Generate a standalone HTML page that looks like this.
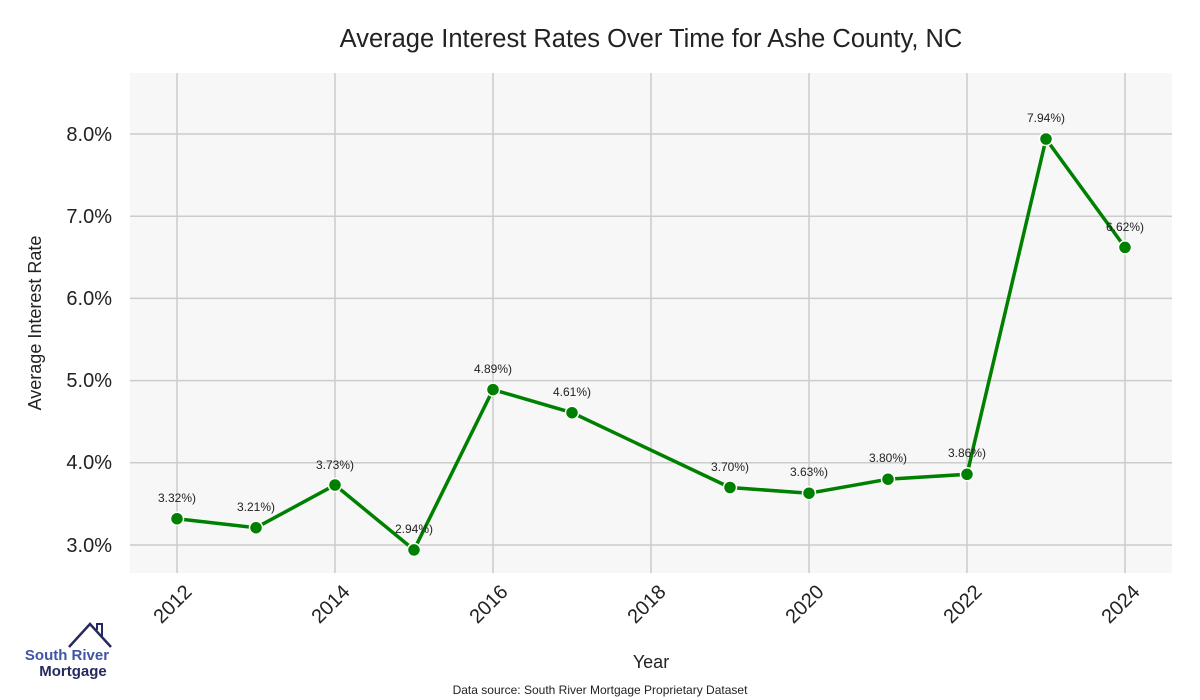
<!DOCTYPE html>
<html><head><meta charset="utf-8"><style>body{margin:0;background:#fff}svg{display:block}</style></head><body>
<svg width="1200" height="700" xmlns="http://www.w3.org/2000/svg" font-family="Liberation Sans, sans-serif">
<rect width="1200" height="700" fill="#fff"/>
<text x="651" y="47" text-anchor="middle" font-size="25.5" fill="#222">Average Interest Rates Over Time for Ashe County, NC</text>
<rect x="130" y="73" width="1042" height="500" fill="#f7f7f7"/>
<g stroke="#cccccc" stroke-width="1.5">
<line x1="177" y1="73" x2="177" y2="573"/><line x1="335" y1="73" x2="335" y2="573"/><line x1="493" y1="73" x2="493" y2="573"/><line x1="651" y1="73" x2="651" y2="573"/><line x1="809" y1="73" x2="809" y2="573"/><line x1="967" y1="73" x2="967" y2="573"/><line x1="1125" y1="73" x2="1125" y2="573"/>
<line x1="130" y1="134" x2="1172" y2="134"/><line x1="130" y1="216.2" x2="1172" y2="216.2"/><line x1="130" y1="298.4" x2="1172" y2="298.4"/><line x1="130" y1="380.6" x2="1172" y2="380.6"/><line x1="130" y1="462.8" x2="1172" y2="462.8"/><line x1="130" y1="545" x2="1172" y2="545"/>
</g>
<g font-size="20" fill="#222" text-anchor="end">
<text x="112" y="141">8.0%</text><text x="112" y="223">7.0%</text><text x="112" y="305">6.0%</text><text x="112" y="387">5.0%</text><text x="112" y="469">4.0%</text><text x="112" y="552">3.0%</text>
</g>
<text transform="translate(41,323) rotate(-90)" text-anchor="middle" font-size="18" fill="#222">Average Interest Rate</text>
<g font-size="20" fill="#222" text-anchor="end">
<text transform="translate(193,593) rotate(-45)">2012</text>
<text transform="translate(351,593) rotate(-45)">2014</text>
<text transform="translate(509,593) rotate(-45)">2016</text>
<text transform="translate(667,593) rotate(-45)">2018</text>
<text transform="translate(825,593) rotate(-45)">2020</text>
<text transform="translate(983,593) rotate(-45)">2022</text>
<text transform="translate(1141,593) rotate(-45)">2024</text>
</g>
<text x="651" y="668" text-anchor="middle" font-size="18" fill="#222">Year</text>
<text x="600" y="694" text-anchor="middle" font-size="12" fill="#222">Data source: South River Mortgage Proprietary Dataset</text>
<polyline fill="none" stroke="#008000" stroke-width="3.5" points="177,518.7 256,527.7 335,485 414,549.9 493,389.6 572,412.7 730,487.5 809,493.2 888,479.2 967,474.3 1046,139 1125,247.4"/>
<g fill="#008000" stroke="#fff" stroke-width="1.5">
<circle cx="177" cy="518.7" r="6.5"/><circle cx="256" cy="527.7" r="6.5"/><circle cx="335" cy="485" r="6.5"/><circle cx="414" cy="549.9" r="6.5"/><circle cx="493" cy="389.6" r="6.5"/><circle cx="572" cy="412.7" r="6.5"/><circle cx="730" cy="487.5" r="6.5"/><circle cx="809" cy="493.2" r="6.5"/><circle cx="888" cy="479.2" r="6.5"/><circle cx="967" cy="474.3" r="6.5"/><circle cx="1046" cy="139" r="6.5"/><circle cx="1125" cy="247.4" r="6.5"/>
</g>
<g font-size="12" fill="#222" text-anchor="middle">
<text x="177" y="502">3.32%)</text><text x="256" y="511">3.21%)</text><text x="335" y="469">3.73%)</text><text x="414" y="533">2.94%)</text><text x="493" y="373">4.89%)</text><text x="572" y="396">4.61%)</text><text x="730" y="471">3.70%)</text><text x="809" y="476">3.63%)</text><text x="888" y="462">3.80%)</text><text x="967" y="457">3.86%)</text><text x="1046" y="122">7.94%)</text><text x="1125" y="231">6.62%)</text>
</g>
<polyline fill="none" stroke="#26295e" stroke-width="2.5" points="69,647 90,624 111,647"/>
<polyline fill="none" stroke="#26295e" stroke-width="2" points="97,630 97,624 102,624 102,636"/>
<text x="67" y="660" text-anchor="middle" font-size="15" font-weight="bold" fill="#3f55a5">South River</text>
<text x="73" y="676" text-anchor="middle" font-size="15" font-weight="bold" fill="#26295e">Mortgage</text>
</svg>
</body></html>
